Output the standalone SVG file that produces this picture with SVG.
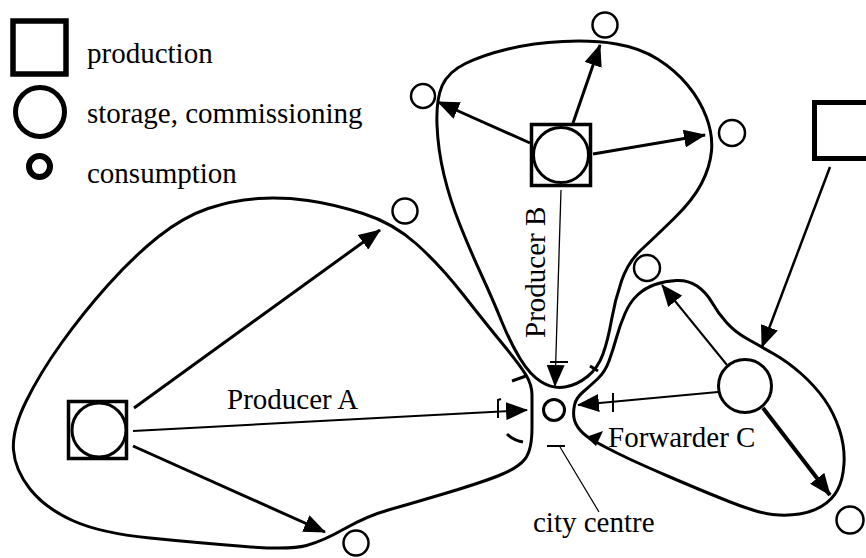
<svg xmlns="http://www.w3.org/2000/svg" width="866" height="558" viewBox="0 0 866 558">
  <defs>
    <marker id="head" markerUnits="userSpaceOnUse" markerWidth="22" markerHeight="18" viewBox="0 0 22 18" refX="21" refY="9" orient="auto">
      <path d="M0,0 L22,9 L0,18 Z" fill="#000"/>
    </marker>
    <style>
      .lbl { font-family: "Liberation Serif", "Times New Roman", serif; font-size: 29px; fill: #000; }
      .lobe { fill: none; stroke: #000; stroke-width: 3; stroke-linejoin: round; }
      .flow { fill: none; stroke: #000; marker-end: url(#head); }
      .thick { stroke-width: 3; }
      .mid { stroke-width: 2; }
      .thin { stroke-width: 1.3; }
      .tick { fill: none; stroke: #000; stroke-width: 2; }
      .cons { fill: #fff; stroke: #000; stroke-width: 2.5; }
      .store { fill: #fff; stroke: #000; stroke-width: 3; }
      .prod { fill: #fff; stroke: #000; stroke-width: 3.5; }
    </style>
  </defs>
  <rect width="866" height="558" fill="#fff"/>

  <!-- legend -->
  <g id="legend">
    <rect x="13" y="21" width="53" height="53" fill="#fff" stroke="#000" stroke-width="5.5"/>
    <circle cx="40" cy="112" r="24.5" fill="#fff" stroke="#000" stroke-width="5"/>
    <circle cx="39.5" cy="166.5" r="10.5" fill="#fff" stroke="#000" stroke-width="6"/>
    <text class="lbl" x="87" y="63">production</text>
    <text class="lbl" x="87" y="123">storage, commissioning</text>
    <text class="lbl" x="87" y="183">consumption</text>
  </g>

  <!-- catchment areas -->
  <g id="areas">
    <path id="area-a" class="lobe" d="M532,427.5 Q532,450 525,459 Q518,468 499,475.5 Q480,483 446.5,493 Q413,503 390,509.5 Q367,516 345,528.5 Q323,541 306.5,545.5 Q290,550 245,546.5 Q200,543 150,538 Q100,533 72.5,520.5 Q45,508 30,489 Q15,470 13.5,450 Q12,430 26,401.5 Q40,373 61.5,343 Q83,313 108,285 Q133,257 158,237 Q183,217 208,208.5 Q233,200 258,198.5 Q283,197 308,200.5 Q333,204 363,213.5 Q393,223 416.5,244 Q440,265 463.5,295 Q487,325 503.5,345 Q520,365 526,375 Q532,385 532,395 Q532,405 532,427.5 Z"/>
    <path id="area-b" class="lobe" d="M541.5,382 Q530,375 520,358.5 Q510,342 501.5,321 Q493,300 481.5,275 Q470,250 460,225 Q450,200 444,175 Q438,150 437,125 Q436,100 442,86 Q448,72 465.5,63.5 Q483,55 508,49 Q533,43 563,41.5 Q593,40 616.5,44 Q640,48 657.5,59 Q675,70 687.5,85 Q700,100 706.5,117.5 Q713,135 711.5,151 Q710,167 701.5,183.5 Q693,200 674,218.5 Q655,237 641.5,249.5 Q628,262 621.5,281 Q615,300 611.5,320 Q608,340 603,354 Q598,368 587.5,376.5 Q577,385 565,387 Q553,389 541.5,382 Z"/>
    <path id="area-c" class="lobe" d="M574.5,405 Q576,398 583,392 Q590,386 597.5,379 Q605,372 609,361 Q613,350 616.5,337.5 Q620,325 625,313.5 Q630,302 637.5,295 Q645,288 655,284.5 Q665,281 676.5,280.5 Q688,280 697,286 Q706,292 712,302.5 Q718,313 726.5,322.5 Q735,332 747.5,339 Q760,346 774,354 Q788,362 801.5,374 Q815,386 824.5,399.5 Q834,413 839.5,430 Q845,447 844,463.5 Q843,480 837.5,490 Q832,500 822,506 Q812,512 799.5,514 Q787,516 772.5,514.5 Q758,513 729,501.5 Q700,490 666.5,475.5 Q633,461 619,454 Q605,447 595,441.5 Q585,436 580,430 Q575,424 574,418 Q573,412 574.5,405 Z"/>
    <!-- small boundary fragments near the centre -->
    <path class="lobe" d="M512,381 L526,376"/>
    <path class="lobe" d="M507,434 Q513,440 523,442"/>
    <path class="lobe" d="M590,366 L598,371"/>
    <path d="M586,437 L603,431 L596,446 Z" fill="#000"/>
  </g>

  <!-- connectors -->
  <g id="connectors">
    <path class="flow thick" d="M134,408 L380,230"/>
    <path class="flow mid" d="M133,431 L527,410"/>
    <path class="flow thick" d="M133,446 L325,532"/>
    <path class="flow thick" d="M530,143 L438,102"/>
    <path class="flow thick" d="M573,123 L600,45"/>
    <path class="flow thick" d="M593,154 L705,135"/>
    <path class="flow thin" d="M561,190 L555,386"/>
    <path class="flow mid" d="M727,365 L662,285"/>
    <path class="flow" stroke-width="4" d="M763,408 L830,495"/>
    <path class="flow mid" d="M718,392 L578,405"/>
    <path class="flow" stroke-width="2.5" d="M830,167 L762,347"/>
    <!-- crossing ticks -->
    <path class="tick" d="M501,399 L498,400 L498,418"/>
    <path class="tick" d="M550,362 L568,362"/>
    <path class="tick" d="M613,393 L613,412"/>
    <!-- city centre pointer -->
    <path class="tick" stroke-width="3" d="M547,446 L565,446"/>
    <path fill="none" stroke="#000" stroke-width="1.2" d="M560,447 L599,512"/>
  </g>

  <!-- producers and forwarder -->
  <g id="producer-a">
    <rect class="prod" x="68.5" y="401.5" width="58" height="57"/>
    <circle class="store" cx="99" cy="430" r="27"/>
    <text class="lbl" x="227" y="409">Producer A</text>
  </g>
  <g id="producer-b">
    <rect class="prod" x="531.5" y="124.5" width="59" height="61"/>
    <circle class="store" cx="561" cy="155" r="27.5"/>
    <text class="lbl" transform="translate(545,338) rotate(-90)">Producer B</text>
  </g>
  <g id="forwarder-c">
    <circle class="store" cx="745" cy="386" r="26.5"/>
    <text class="lbl" x="608" y="447">Forwarder C</text>
  </g>
  <g id="production-c">
    <rect x="814.5" y="102.5" width="70" height="56" fill="#fff" stroke="#000" stroke-width="5"/>
  </g>

  <!-- consumers -->
  <g id="consumer-a1"><circle class="cons" cx="405" cy="211" r="12.5"/></g>
  <g id="consumer-a2"><circle class="cons" cx="356" cy="543" r="12.5"/></g>
  <g id="consumer-b1"><circle class="cons" cx="423" cy="96" r="12"/></g>
  <g id="consumer-b2"><circle class="cons" cx="605" cy="25" r="12.5"/></g>
  <g id="consumer-b3"><circle class="cons" cx="732" cy="133" r="13"/></g>
  <g id="consumer-c1"><circle class="cons" cx="647" cy="268" r="13"/></g>
  <g id="consumer-c2"><circle class="cons" cx="850" cy="520" r="13.5"/></g>

  <!-- city centre -->
  <g id="city-centre">
    <circle cx="554" cy="410" r="10.5" fill="#fff" stroke="#000" stroke-width="3"/>
    <text class="lbl" x="533" y="532">city centre</text>
  </g>
</svg>
